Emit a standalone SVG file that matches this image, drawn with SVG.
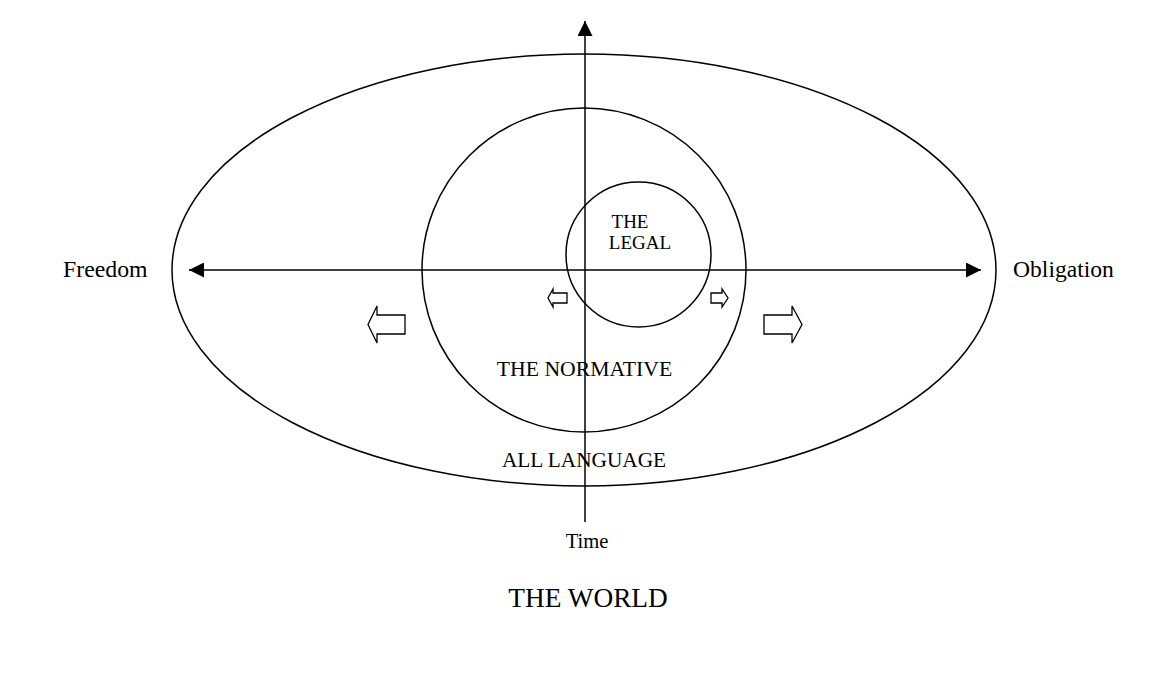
<svg xmlns="http://www.w3.org/2000/svg" width="1176" height="691" viewBox="0 0 1176 691">
<style>
.ln{fill:none;stroke:#000;stroke-width:1.5}
.ar{fill:#fff;stroke:#000;stroke-width:1.3}
text{font-family:"Liberation Serif","Times New Roman",serif;fill:#000}
</style>
<defs>
<marker id="ah" markerWidth="15" markerHeight="15" viewBox="0 0 15 15" refX="15" refY="7.5" orient="auto" markerUnits="userSpaceOnUse">
<path d="M0,0 L15,7.5 L0,15 Z" fill="#000"/>
</marker>
</defs>
<rect width="1176" height="691" fill="#fff"/>
<g id="all-language">
<ellipse class="ln" cx="584" cy="270" rx="412" ry="216"/>
<text x="584" y="467" font-size="21.3" text-anchor="middle">ALL LANGUAGE</text>
</g>
<g id="normative">
<circle class="ln" cx="584" cy="270" r="162"/>
<text x="584.5" y="376" font-size="21.7" text-anchor="middle">THE NORMATIVE</text>
</g>
<g id="legal">
<circle class="ln" cx="638.5" cy="254.5" r="72.5"/>
<text x="630" y="228" font-size="19" text-anchor="middle">THE</text>
<text x="640" y="249" font-size="19" text-anchor="middle">LEGAL</text>
</g>
<g id="connectors">
<line class="ln" x1="585" y1="522" x2="585" y2="21" marker-end="url(#ah)"/>
<line class="ln" x1="585" y1="270" x2="189" y2="270" marker-end="url(#ah)"/>
<line class="ln" x1="585" y1="270" x2="981" y2="270" marker-end="url(#ah)"/>
</g>
<g id="shift-arrows">
<path class="ar" d="M405,315 L377,315 L377,306 L368,324.5 L377,343 L377,334 L405,334 Z"/>
<path class="ar" d="M764,315 L792,315 L792,306 L802,324.5 L792,343 L792,334 L764,334 Z"/>
<path class="ar" d="M567,293 L553,293 L553,289 L548,298 L553,307 L553,303 L567,303 Z"/>
<path class="ar" d="M711,293 L722,293 L722,289 L728,298 L722,307 L722,303 L711,303 Z"/>
</g>
<g id="labels">
<text x="63" y="277" font-size="23.8">Freedom</text>
<text x="1013" y="277" font-size="23.6">Obligation</text>
<text x="587" y="548" font-size="20.6" text-anchor="middle">Time</text>
<text x="588" y="607" font-size="27.3" text-anchor="middle">THE WORLD</text>
</g>
</svg>
